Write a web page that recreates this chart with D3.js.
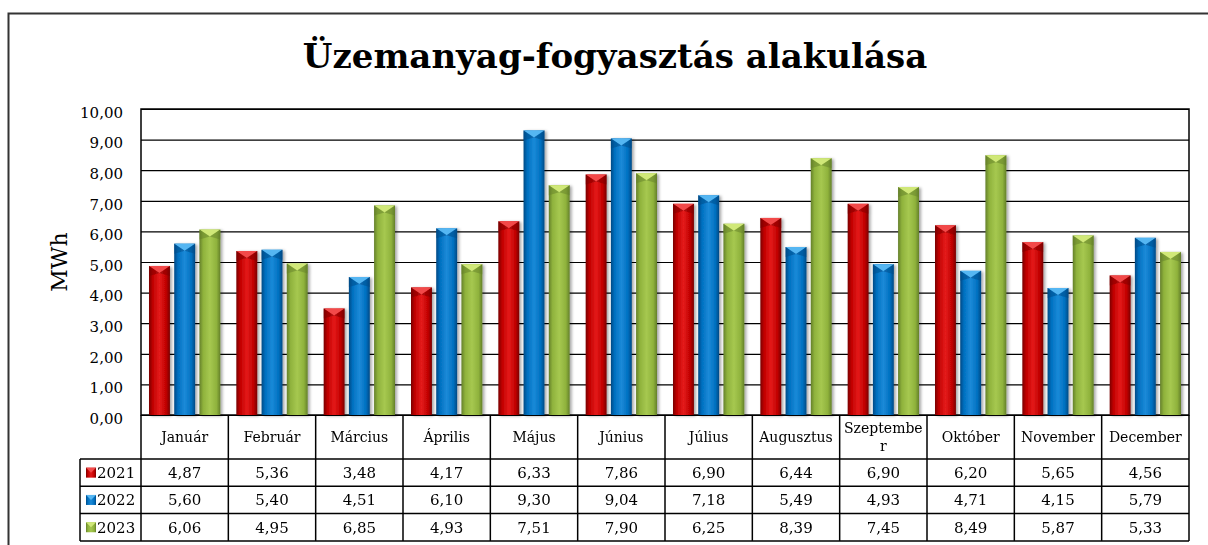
<!DOCTYPE html>
<html>
<head>
<meta charset="utf-8">
<script src="https://cdn.jsdelivr.net/npm/d3@7"></script>
<style>
  body { margin: 0; background: #fff; }
  text { font-family: "DejaVu Serif", Georgia, serif; fill: #000; }
</style>
</head>
<body>
<div id="chart"></div>
<script>
const months = ['Január','Február','Március','Április','Május','Június','Július','Augusztus','Szeptember','Október','November','December']
const seriesNames = ['2021','2022','2023']
const v2021 = [4.87,5.36,3.48,4.17,6.33,7.86,6.90,6.44,6.90,6.20,5.65,4.56]
const v2022 = [5.60,5.40,4.51,6.10,9.30,9.04,7.18,5.49,4.93,4.71,4.15,5.79]
const v2023 = [6.06,4.95,6.85,4.93,7.51,7.90,6.25,8.39,7.45,8.49,5.87,5.33]
const yTicks = [0,1,2,3,4,5,6,7,8,9,10]

const series = [
  {name: seriesNames[0], values: v2021, main: '#c00000', dark: '#7a0000', light: '#e41a1a', bevel: '#f24a4a'},
  {name: seriesNames[1], values: v2022, main: '#0070c0', dark: '#004a85', light: '#1b8ad8', bevel: '#55b6f2'},
  {name: seriesNames[2], values: v2023, main: '#8fb23c', dark: '#64802a', light: '#a6c850', bevel: '#d0e878'}
]

const W = 1208, H = 545
const margin = {top: 109, right: 19, bottom: 130, left: 141}
const plotW = W - margin.left - margin.right
const plotH = H - margin.top - margin.bottom

const hu = d3.formatLocale({decimal: ',', thousands: ' ', grouping: [3], currency: ['', ' Ft']})
const fmt = hu.format('.2f')

const svg = d3.select('#chart').append('svg')
  .attr('width', W).attr('height', H)

const defs = svg.append('defs')
series.forEach((s, i) => {
  const g = defs.append('linearGradient').attr('id', 'grad' + i)
    .attr('x1', 0).attr('x2', 1).attr('y1', 0).attr('y2', 0)
  g.append('stop').attr('offset', '0%').attr('stop-color', s.dark)
  g.append('stop').attr('offset', '18%').attr('stop-color', s.main)
  g.append('stop').attr('offset', '50%').attr('stop-color', s.light)
  g.append('stop').attr('offset', '82%').attr('stop-color', s.main)
  g.append('stop').attr('offset', '100%').attr('stop-color', s.dark)
})
defs.append('filter').attr('id', 'shadow')
  .attr('x', '-20%').attr('y', '-10%').attr('width', '150%').attr('height', '120%')
  .append('feDropShadow')
  .attr('dx', 2).attr('dy', 1).attr('stdDeviation', 1.6)
  .attr('flood-color', '#000').attr('flood-opacity', 0.35)

// outer frame
svg.append('rect')
  .attr('x', 8.5).attr('y', 13.5).attr('width', 1240).attr('height', 560)
  .attr('fill', 'none').attr('stroke', '#333').attr('stroke-width', 2)

svg.append('text')
  .attr('x', 615).attr('y', 68)
  .attr('text-anchor', 'middle')
  .style('font-size', '34px').style('font-weight', 'bold')
  .text('Üzemanyag-fogyasztás alakulása')

svg.append('text')
  .attr('transform', 'translate(67,' + (margin.top + plotH / 2) + ') rotate(-90)')
  .attr('text-anchor', 'middle')
  .style('font-size', '22px')
  .text('MWh')

const x = d3.scaleBand()
  .domain(months)
  .range([margin.left, margin.left + plotW])

const x1 = d3.scaleBand()
  .domain(seriesNames)
  .range([8, x.bandwidth() - 8])
  .paddingInner(0.17)

const y = d3.scaleLinear()
  .domain([0, 10])
  .range([margin.top + plotH, margin.top])

// grid + labels
const yAxis = svg.append('g')
  .attr('transform', 'translate(' + margin.left + ',0)')
  .call(d3.axisLeft(y).tickValues(yTicks).tickSize(-plotW).tickPadding(18).tickFormat(fmt))
yAxis.select('.domain').remove()
yAxis.selectAll('line').attr('stroke', '#000').attr('stroke-width', 1.2)
yAxis.selectAll('text')
  .attr('dy', '0.55em')
  .style('font-family', '"DejaVu Serif", Georgia, serif')
  .style('font-size', '15px')

svg.append('rect')
  .attr('x', margin.left).attr('y', margin.top)
  .attr('width', plotW).attr('height', plotH)
  .attr('fill', 'none').attr('stroke', '#000').attr('stroke-width', 1.5)

// bars
const barW = x1.bandwidth()
const bev = 7
const groups = svg.append('g').selectAll('g')
  .data(series)
  .join('g')
  .attr('filter', 'url(#shadow)')

groups.each(function(s, si) {
  const g = d3.select(this)
  const bars = g.selectAll('g.bar')
    .data(s.values.map((v, i) => ({m: months[i], v: v})))
    .join('g').attr('class', 'bar')
  bars.append('rect')
    .attr('x', d => x(d.m) + x1(s.name))
    .attr('y', d => y(d.v))
    .attr('width', barW)
    .attr('height', d => y(0) - y(d.v))
    .attr('fill', 'url(#grad' + si + ')')
  bars.append('path')
    .attr('d', d => {
      const x0 = x(d.m) + x1(s.name), y0 = y(d.v)
      return 'M' + x0 + ',' + y0 + 'L' + (x0 + barW) + ',' + y0 + 'L' + (x0 + barW / 2) + ',' + (y0 + bev) + 'Z'
    })
    .attr('fill', s.bevel)
  bars.append('path')
    .attr('d', d => {
      const x0 = x(d.m) + x1(s.name), y0 = y(d.v)
      return 'M' + x0 + ',' + y0 + 'L' + (x0 + barW / 2) + ',' + (y0 + bev) + 'L' + x0 + ',' + (y0 + bev + 3) + 'Z'
    })
    .attr('fill', s.dark).attr('opacity', 0.5)
  bars.append('path')
    .attr('d', d => {
      const x0 = x(d.m) + x1(s.name), y0 = y(d.v)
      return 'M' + (x0 + barW) + ',' + y0 + 'L' + (x0 + barW / 2) + ',' + (y0 + bev) + 'L' + (x0 + barW) + ',' + (y0 + bev + 3) + 'Z'
    })
    .attr('fill', s.dark).attr('opacity', 0.5)
})

// data table
const headerBottom = 459
const rowH = 27.3
const legendLeft = 80
const tableBottom = headerBottom + rowH * series.length
const table = svg.append('g')

const lineAttrs = sel => sel.attr('stroke', '#000').attr('stroke-width', 1.5)

x.domain().forEach((m, i) => {
  table.append('line')
    .attr('x1', x(m)).attr('x2', x(m))
    .attr('y1', margin.top + plotH).attr('y2', tableBottom)
    .call(lineAttrs)
})
table.append('line')
  .attr('x1', margin.left + plotW).attr('x2', margin.left + plotW)
  .attr('y1', margin.top + plotH).attr('y2', tableBottom)
  .call(lineAttrs)
table.append('line')
  .attr('x1', legendLeft).attr('x2', legendLeft)
  .attr('y1', headerBottom).attr('y2', tableBottom)
  .call(lineAttrs)
d3.range(series.length + 1).forEach(r => {
  table.append('line')
    .attr('x1', legendLeft).attr('x2', margin.left + plotW)
    .attr('y1', headerBottom + r * rowH).attr('y2', headerBottom + r * rowH)
    .call(lineAttrs)
})

// month headers, wrapped by character when too wide
const maxW = x.bandwidth() - 8
months.forEach(m => {
  const t = table.append('text')
    .attr('x', x(m) + x.bandwidth() / 2)
    .attr('text-anchor', 'middle')
    .style('font-size', '14px')
  t.text(m)
  let lines = [m]
  if (t.node().getComputedTextLength() > maxW) {
    let cut = m.length
    while (cut > 1) {
      t.text(m.slice(0, cut))
      if (t.node().getComputedTextLength() <= maxW) break
      cut--
    }
    lines = [m.slice(0, cut), m.slice(cut)]
  }
  t.text(null)
  const cy = (margin.top + plotH + headerBottom) / 2
  lines.forEach((ln, li) => {
    t.append('tspan')
      .attr('x', x(m) + x.bandwidth() / 2)
      .attr('y', cy + (li - (lines.length - 1) / 2) * 18)
      .attr('dy', '0.35em')
      .text(ln)
  })
})

series.forEach((s, si) => {
  const cy = headerBottom + rowH * si + rowH / 2
  table.append('rect')
    .attr('x', 86).attr('y', cy - 5)
    .attr('width', 10).attr('height', 10)
    .attr('fill', 'url(#grad' + si + ')')
  table.append('path')
    .attr('d', 'M86,' + (cy - 5) + 'L96,' + (cy - 5) + 'L91,' + cy + 'Z')
    .attr('fill', s.bevel)
  table.append('text')
    .attr('x', 97).attr('y', cy).attr('dy', '0.35em')
    .style('font-size', '15px')
    .text(s.name)
  s.values.forEach((v, i) => {
    table.append('text')
      .attr('x', x(months[i]) + x.bandwidth() / 2)
      .attr('y', cy).attr('dy', '0.35em')
      .attr('text-anchor', 'middle')
      .style('font-size', '15px')
      .text(fmt(v))
  })
})
</script>
</body>
</html>
